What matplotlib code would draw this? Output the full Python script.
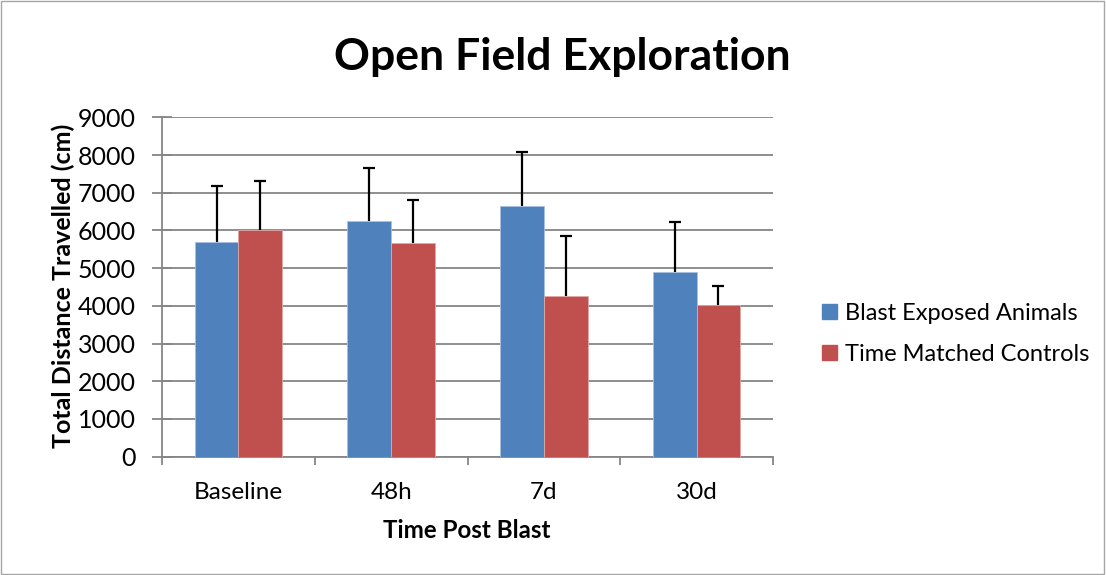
import numpy as np
import matplotlib
matplotlib.use('Agg')
import matplotlib.pyplot as plt
from matplotlib.patches import Patch, Rectangle

plt.rcParams['font.family'] = ['Lato', 'DejaVu Sans']

# Data
categories = ['Baseline', '48h', '7d', '30d']
blast = [5690, 6250, 6655, 4905]
blast_err = [1480, 1415, 1435, 1325]
control = [6020, 5665, 4255, 4030]
control_err = [1290, 1130, 1595, 495]

blue = '#4F81BD'
red = '#C0504D'
grid_col = '#868686'

W, H = 1106, 575
fig = plt.figure(figsize=(W / 100, H / 100), dpi=100)
ax = fig.add_axes([162 / W, 1 - 456.6 / H, (773 - 162) / W, (456.6 - 117.3) / H])

x = np.arange(len(categories))
bw = 1 / 3.5
zeros = np.zeros(len(categories))
err_kw = dict(ecolor='black', elinewidth=1.6, capsize=4.5, capthick=1.6)
b1 = ax.bar(x - bw / 2, blast, bw, color=blue, edgecolor='#a9c0e0', linewidth=0.6,
            yerr=[zeros, blast_err], error_kw=err_kw, zorder=3, label='Blast Exposed Animals')
b2 = ax.bar(x + bw / 2, control, bw, color=red, edgecolor='#e0a9a8', linewidth=0.6,
            yerr=[zeros, control_err], error_kw=err_kw, zorder=3, label='Time Matched Controls')
# only the upper half of the error bars has a cap
for b in (b1, b2):
    caps = b.errorbar.lines[1]
    caps[0].set_visible(False)

ax.set_xlim(-0.5, len(categories) - 0.5)
ax.set_ylim(0, 9000)
ax.set_yticks(np.arange(0, 9001, 1000))
ax.set_xticks(x)
ax.set_xticklabels(categories)
ax.set_xticks(np.arange(-0.5, len(categories), 1), minor=True)
ax.yaxis.grid(True, color=grid_col, linewidth=1.3, zorder=0)
ax.set_axisbelow(True)

for s in ['top', 'right']:
    ax.spines[s].set_visible(False)
for s in ['left', 'bottom']:
    ax.spines[s].set_color(grid_col)
    ax.spines[s].set_linewidth(1.3)

ax.tick_params(axis='y', direction='inout', length=14, width=1.3, color=grid_col,
               labelsize=18, pad=12)
ax.tick_params(axis='x', which='major', length=0, labelsize=17.5, pad=18)
ax.tick_params(axis='x', which='minor', direction='out', length=6, width=1.3, color=grid_col)

fig.text(562 / W, 1 - 57 / H, 'Open Field Exploration', ha='center', va='center',
         fontsize=32, fontweight='bold')
fig.text(467 / W, 1 - 531 / H, 'Time Post Blast', ha='center', va='center',
         fontsize=17.4, fontweight='bold')
fig.text(63 / W, 1 - 286 / H, 'Total Distance Travelled (cm)', ha='center', va='center',
         rotation=90, fontsize=18, fontweight='bold')

handles = [Patch(color=blue), Patch(color=red)]
fig.legend(handles, ['Blast Exposed Animals', 'Time Matched Controls'],
           loc='center left', bbox_to_anchor=(813 / W, 1 - 334 / H), frameon=False,
           fontsize=17, handlelength=0.6, handleheight=0.6, handletextpad=0.35,
           labelspacing=0.87, borderaxespad=0)

fig.patches.append(Rectangle((0.0005, 0.001), 0.998, 0.997, transform=fig.transFigure,
                             fill=False, edgecolor='#a6a6a6', linewidth=1))

fig.savefig('out.png', dpi=100)
